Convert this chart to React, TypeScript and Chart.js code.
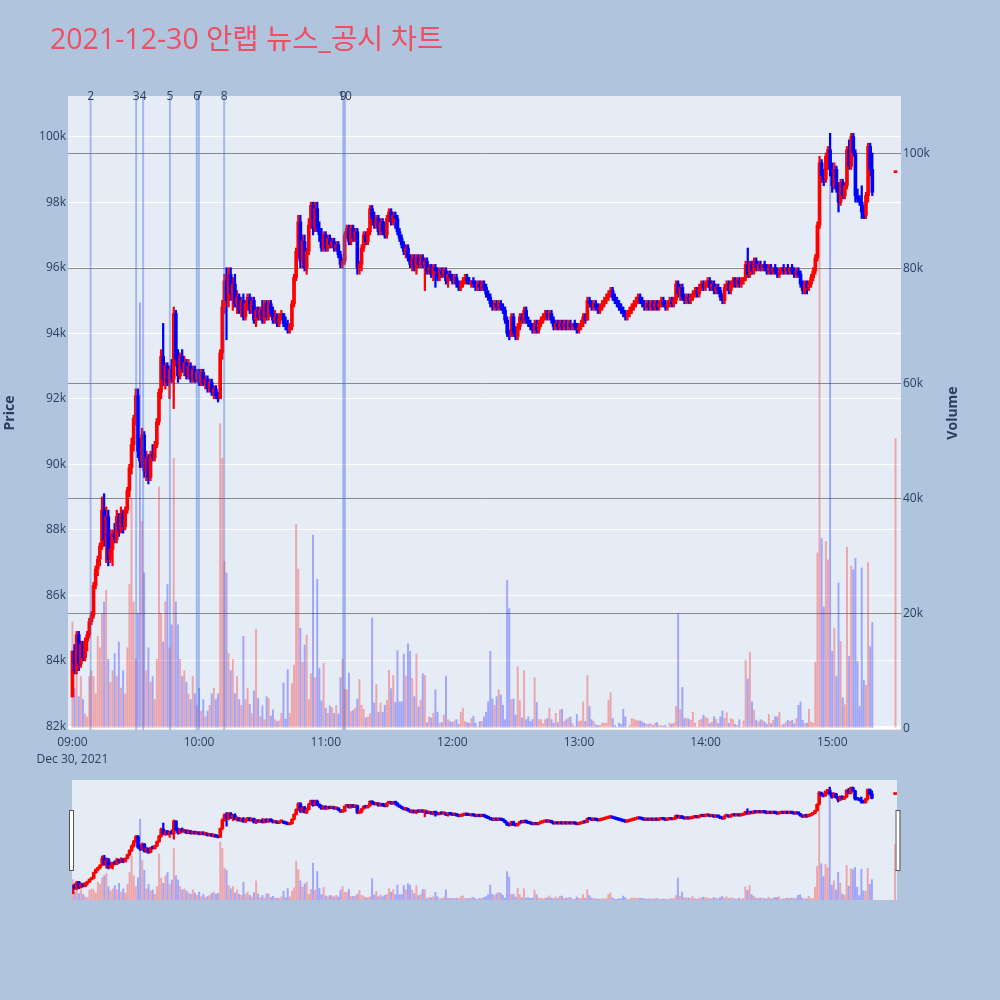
import React, { useEffect, useRef } from "react";
import { Chart, registerables } from "chart.js";

Chart.register(...registerables);

const TITLE = "2021-12-30 안랩 뉴스_공시 차트";
const DATE_LABEL = "Dec 30, 2021";
const timeTickMinutes = [0, 60, 120, 180, 240, 300, 360];
const timeTickLabels = ["09:00", "10:00", "11:00", "12:00", "13:00", "14:00", "15:00"];
const priceTicks = [82000, 84000, 86000, 88000, 90000, 92000, 94000, 96000, 98000, 100000];
const volumeTicks = [0, 20000, 40000, 60000, 80000, 100000];

// news / disclosure markers (minutes after 09:00)
const newsLabels = ["2", "3", "4", "5", "6", "7", "8", "9", "10"];
const newsMinutes = [8.6, 30.2, 33.5, 46.2, 58.9, 59.9, 71.9, 128.3, 129.1];

// 1-minute candles from 09:00, prices in units of 100 KRW
const opens = [
  829,843,837,848,839,845,841,846,848,852,
  854,863,868,871,875,886,877,884,871,874,
  879,877,884,880,885,881,886,892,899,906,
  914,921,904,901,909,898,902,896,903,902,
  906,913,922,933,926,930,925,929,926,946,
  932,927,933,929,931,927,930,926,929,926,
  928,925,928,925,926,923,925,922,923,921,
  920,934,948,956,950,958,952,955,949,951,
  947,950,945,949,951,947,950,944,947,945,
  947,944,949,945,949,946,944,945,943,945,
  946,943,942,941,942,949,957,965,974,962,
  968,960,965,973,979,972,978,972,970,966,
  970,966,969,967,968,966,967,964,961,962,
  970,972,968,972,969,971,960,961,966,970,
  968,971,978,975,973,975,971,974,971,970,
  975,977,974,976,975,971,969,967,965,966,
  963,961,963,960,963,961,963,961,962,959,
  960,958,960,959,957,959,958,959,956,958,
  957,956,957,955,954,955,956,957,956,955,
  956,955,954,955,954,955,954,952,951,949,
  948,949,948,949,948,947,944,940,939,945,
  940,939,942,945,944,947,944,943,942,941,
  943,941,943,944,945,946,945,946,944,942,
  943,942,943,942,943,942,943,942,943,942,
  941,942,943,945,944,950,949,948,949,948,
  947,948,949,950,951,952,953,951,950,949,
  948,947,946,945,946,947,948,949,950,951,
  950,949,948,949,948,949,948,949,948,949,
  950,949,948,949,950,949,950,955,952,954,
  951,950,951,950,951,952,953,952,954,955,
  954,955,956,954,955,953,954,953,951,950,
  954,955,953,955,956,955,956,955,956,957,
  961,958,961,959,962,960,961,960,961,960,
  959,960,959,960,959,958,959,960,959,960,
  959,960,959,958,959,958,955,953,955,954,
  955,957,959,963,973,992,988,987,994,996,
  990,985,990,984,980,986,982,985,996,991,
  1000,995,982,981,980,977,976,982,997,990,
];
const highs = [
  843,845,849,849,846,846,847,849,853,855,
  864,869,872,876,890,891,887,886,880,880,
  882,886,885,887,886,887,893,900,908,915,
  923,923,908,911,910,904,903,904,906,907,
  914,923,935,943,931,931,930,932,948,947,
  935,934,935,933,932,932,931,930,930,929,
  929,929,929,927,927,926,926,924,924,922,
  935,950,958,960,960,960,957,958,953,952,
  951,952,950,952,952,951,951,948,948,948,
  950,950,950,950,950,948,947,946,946,947,
  946,945,944,943,950,958,966,976,976,970,
  970,966,975,980,980,980,980,974,972,971,
  971,970,970,969,969,968,968,965,963,971,
  973,973,973,973,972,972,962,967,971,971,
  972,979,979,977,976,976,975,975,974,976,
  978,978,977,977,976,972,970,968,967,967,
  964,964,964,964,964,964,964,963,963,961,
  961,961,961,960,960,960,960,960,959,959,
  958,958,958,956,956,957,958,958,957,956,
  957,956,956,956,956,956,955,953,952,950,
  950,950,950,950,949,948,945,941,946,946,
  942,943,946,946,948,948,945,944,943,944,
  944,944,945,946,947,947,947,947,945,944,
  944,944,944,944,944,944,944,943,944,943,
  943,944,946,946,951,951,950,950,950,949,
  949,950,951,952,953,954,954,952,951,950,
  949,948,947,947,948,949,950,951,952,952,
  951,950,950,950,950,950,950,950,950,951,
  951,950,950,951,951,951,956,956,955,955,
  952,952,952,952,953,954,954,955,956,956,
  956,957,957,956,956,955,955,954,952,955,
  956,956,956,957,957,957,957,957,957,962,
  966,962,962,963,963,962,962,961,962,961,
  961,961,960,961,960,960,960,961,960,961,
  960,961,960,960,960,959,956,956,956,956,
  958,960,964,974,994,993,990,995,997,1001,
  992,992,991,986,987,987,986,997,999,1001,
  1001,996,984,982,985,979,983,998,998,995,
];
const lows = [
  829,836,836,837,838,840,840,843,847,851,
  853,862,866,869,874,875,870,869,870,869,
  876,876,878,879,879,880,885,890,897,904,
  912,902,899,899,896,895,894,895,901,901,
  905,912,920,924,923,924,920,925,917,930,
  925,926,928,927,926,926,925,925,925,925,
  924,924,924,923,922,922,921,920,920,919,
  920,932,946,938,948,950,947,948,946,946,
  945,944,944,947,946,946,943,942,944,944,
  943,943,944,944,945,943,943,942,942,944,
  942,941,940,940,941,948,956,963,960,960,
  959,958,964,972,970,971,971,968,965,965,
  965,965,966,966,965,965,963,960,960,961,
  969,967,967,968,968,958,958,959,965,967,
  967,970,973,972,972,970,970,970,969,969,
  974,973,973,972,970,968,966,964,963,962,
  960,959,959,958,960,960,960,953,958,958,
  957,956,954,956,956,957,957,955,954,956,
  955,955,954,953,953,954,955,955,955,954,
  954,953,953,953,953,953,951,950,948,947,
  947,947,947,947,946,943,939,938,939,939,
  938,938,941,943,943,943,942,941,940,940,
  940,940,942,943,944,944,944,943,941,941,
  941,941,941,941,941,941,941,941,941,940,
  940,941,942,943,944,948,947,947,947,946,
  946,947,948,949,950,951,950,949,948,947,
  946,945,944,944,945,946,947,948,949,949,
  948,947,947,947,947,947,947,947,947,948,
  948,947,947,948,948,948,949,951,950,950,
  949,949,949,949,950,951,951,951,953,953,
  953,954,953,953,952,952,952,950,949,949,
  953,952,952,954,954,954,954,954,955,956,
  957,957,958,958,959,959,959,959,959,958,
  958,958,958,958,957,957,958,958,958,958,
  958,958,957,957,957,954,952,952,952,953,
  954,956,958,962,972,986,985,986,990,988,
  983,984,983,977,979,981,981,984,990,990,
  994,980,980,979,975,975,975,980,988,982,
];
const closes = [
  843,837,848,839,845,841,846,848,852,854,
  863,868,871,875,886,877,884,871,874,879,
  877,884,880,885,881,886,892,899,906,914,
  921,904,901,909,898,902,896,903,902,906,
  913,922,933,926,930,925,929,926,946,932,
  927,933,929,931,927,930,926,929,926,928,
  925,928,925,926,923,925,922,923,921,920,
  934,948,956,950,958,952,955,949,951,947,
  950,945,949,951,947,950,944,947,945,947,
  944,949,945,949,946,944,945,943,945,946,
  943,942,941,942,949,957,965,974,962,968,
  960,965,973,979,972,978,972,970,966,970,
  966,969,967,968,966,967,964,961,962,970,
  972,968,972,969,971,960,961,966,970,968,
  971,978,975,973,975,971,974,971,970,975,
  977,974,976,975,971,969,967,965,966,963,
  961,963,960,963,961,963,961,962,959,960,
  958,960,959,957,959,958,959,956,958,957,
  956,957,955,954,955,956,957,956,955,956,
  955,954,955,954,955,954,952,951,949,948,
  949,948,949,948,947,944,940,939,945,940,
  939,942,945,944,947,944,943,942,941,943,
  941,943,944,945,946,945,946,944,942,943,
  942,943,942,943,942,943,942,943,942,941,
  942,943,945,944,950,949,948,949,948,947,
  948,949,950,951,952,953,951,950,949,948,
  947,946,945,946,947,948,949,950,951,950,
  949,948,949,948,949,948,949,948,949,950,
  949,948,949,950,949,950,955,952,954,951,
  950,951,950,951,952,953,952,954,955,954,
  955,956,954,955,953,954,953,951,950,954,
  955,953,955,956,955,956,955,956,957,961,
  958,961,959,962,960,961,960,961,960,959,
  960,959,960,959,958,959,960,959,960,959,
  960,959,958,959,958,955,953,955,954,955,
  957,959,963,973,992,988,987,994,996,990,
  985,990,984,980,986,982,985,996,991,1000,
  995,982,981,980,977,976,982,997,990,983,
];
// volume per minute, thousands of shares
const volumes = [
  18.5,7,12,5.5,9,5,2.5,2,9,10,
  9,6,16,14,20,22,24,12,8,10,
  13,9,15,7,10,6,14,25,40,22,
  12,20,74,36,27,10,14,8,9,5,
  12,42,20,15,22,25,14,18,47,22,
  18,12,9,10,8,6,5,9,6,4,
  7,3,5,2,3,4,6,7,5,6,
  53,47,29,27,13,10,12,6,9,5,
  4,16,5,7,4.2,2.6,6.5,17.2,5.2,2.0,
  3.9,1.5,5.5,5.2,2.1,3.2,1.5,1.2,1.3,2.6,
  7.9,1.6,10.2,2.6,7.8,11,35.5,27.7,17.4,11.5,
  14.5,16.2,5,9.5,33.6,8.8,25.9,10.4,4.8,11.3,
  3.5,2.6,3.9,3.6,2.6,4.0,2.5,8.8,12,6.8,
  6.7,9.6,2.9,3.1,3.5,5.1,8.5,4.0,3.3,1.8,
  2.0,2.5,19.2,4.4,7.6,2.8,4.4,2.8,4.0,4.9,
  10.1,6.9,9.2,4.5,13.5,4.6,4.6,12.9,9.1,14.7,
  13.4,8.7,5.5,12.9,3.7,4.9,9.5,9.2,1.0,2.0,
  1.8,2.6,6.7,2.8,0.9,1.0,2.3,9.1,1.5,1.2,
  1.0,1.3,1.5,0.7,2.8,3.5,1.2,1.0,0.9,1.7,
  2.1,0.9,0.3,1.2,1.2,2.0,2.8,4.6,13.4,5.1,
  4.0,5.5,6.7,5.8,4.0,1.5,25.7,20.8,5.0,5.1,
  2.3,10.7,4.8,1.8,10.0,1.5,2.0,1.2,1.5,8.8,
  4.5,1.5,1.5,0.8,1.5,1.7,3.5,1.5,0.9,2.6,
  1.0,3.2,3.3,1.2,1.5,1.8,2.0,0.8,0.3,2.4,
  1.2,1.3,4.6,1.2,9.2,3.8,1.5,1.2,0.6,0.5,
  0.5,0.9,0.9,0.9,4.9,6.2,1.7,0.5,0.2,0.9,
  0.7,3.3,2.0,0.2,0.5,1.7,1.6,1.4,1.3,1.3,
  1.1,0.9,0.7,0.7,0.8,0.5,0.9,1.0,0.5,0.5,
  0.4,0.5,0.2,0.9,0.7,0.9,3.8,19.9,3.3,7.1,
  1.7,1.7,1.6,1.4,2.8,0.9,0.2,1.4,1.6,2.3,
  1.9,1.7,0.8,1.1,2.0,1.6,0.8,2.0,3.0,1.7,
  2.7,0.9,1.7,1.5,0.7,0.5,1.5,0.2,1.3,11.8,
  8.6,13.2,4.6,3.2,1.4,1.1,1.5,1.4,1.1,0.7,
  2.4,0.8,1.4,2.0,2.0,2.8,0.5,0.7,1.1,1.4,
  1.2,1.4,0.8,1.7,4.0,4.6,1.4,0.8,0.9,3.3,
  1.1,0.9,11.5,30.5,90,33,21.1,32.5,29.3,98,
  13.4,17.4,9,25.3,15.1,5.3,4.1,31.5,12.5,28.2,
  27.6,29.6,11.6,3.8,27.9,8.3,7.5,28.8,14.2,18.4,
];
// closing auction at 15:30
const auctionMinute = 390;
const auctionOpen = 989;
const auctionHigh = 989;
const auctionLow = 989;
const auctionClose = 989;
const auctionVolume = 50.4;

const FONT = '"Open Sans", verdana, arial, "Noto Sans CJK KR", sans-serif';
const PAGE_BG = "#b0c4de";
const PLOT_BG = "#e5ecf6";
const TEXT = "#2a3f5f";
const UP = "#ff0000";
const DOWN = "#0000ff";
const UP_VOL = "rgba(255,0,0,0.3)";
const DOWN_VOL = "rgba(0,0,255,0.3)";

function buildSeries() {
  const m: number[] = opens.map((_, i) => i).concat([auctionMinute]);
  const o = opens.concat([auctionOpen]);
  const h = highs.concat([auctionHigh]);
  const l = lows.concat([auctionLow]);
  const c = closes.concat([auctionClose]);
  const v = volumes.concat([auctionVolume]);
  const up = c.map((cv, i) => cv >= o[i]);
  return {
    vol: m.map((x, i) => ({ x, y: v[i] * 1000 })),
    volColors: up.map((u) => (u ? UP_VOL : DOWN_VOL)),
    wick: m.map((x, i) => ({ x, y: [l[i] * 100, h[i] * 100] })),
    body: m.map((x, i) => ({ x, y: [o[i] * 100, c[i] * 100] })),
    colors: up.map((u) => (u ? UP : DOWN)),
  };
}

function datasets(s: any) {
  return [
    { type: "bar", data: s.vol, yAxisID: "yv", backgroundColor: s.volColors, barThickness: 1.3, grouped: false, order: 3 },
    { type: "bar", data: s.wick, yAxisID: "yp", backgroundColor: s.colors, barThickness: 1.6, grouped: false, order: 2 },
    { type: "bar", data: s.body, yAxisID: "yp", backgroundColor: s.colors, barThickness: 3, grouped: false, minBarLength: 2, order: 1 },
  ];
}

const bgPlugin = {
  id: "bgPlugin",
  beforeDraw(chart: any) {
    const { ctx, chartArea: a } = chart;
    ctx.save();
    ctx.fillStyle = PLOT_BG;
    ctx.fillRect(a.left, a.top, a.right - a.left, a.bottom - a.top);
    ctx.restore();
  },
};

const decorPlugin = {
  id: "decorPlugin",
  afterDatasetsDraw(chart: any) {
    const { ctx, chartArea: a, scales } = chart;
    ctx.save();
    ctx.strokeStyle = "rgba(65,105,225,0.4)";
    ctx.lineWidth = 2;
    newsMinutes.forEach((mm) => {
      const px = scales.x.getPixelForValue(mm);
      ctx.beginPath();
      ctx.moveTo(px, a.top);
      ctx.lineTo(px, a.bottom);
      ctx.stroke();
    });
    ctx.fillStyle = TEXT;
    ctx.font = "12px " + FONT;
    ctx.textAlign = "center";
    ctx.textBaseline = "middle";
    newsMinutes.forEach((mm, i) => {
      const px = scales.x.getPixelForValue(mm);
      ctx.fillText(newsLabels[i], px, a.top + 1);
    });
    ctx.restore();
  },
  afterDraw(chart: any) {
    const { ctx, chartArea: a } = chart;
    const cy = (a.top + a.bottom) / 2;
    ctx.save();
    ctx.fillStyle = "#ef4f63";
    ctx.font = "28.5px " + FONT;
    ctx.textAlign = "left";
    ctx.textBaseline = "middle";
    ctx.fillText(TITLE, 50, 41);
    ctx.fillStyle = TEXT;
    ctx.font = "bold 14px " + FONT;
    ctx.textAlign = "center";
    ctx.translate(10, cy);
    ctx.rotate(-Math.PI / 2);
    ctx.fillText("Price", 0, 0);
    ctx.restore();
    ctx.save();
    ctx.fillStyle = TEXT;
    ctx.font = "bold 14px " + FONT;
    ctx.textAlign = "center";
    ctx.textBaseline = "middle";
    ctx.translate(953, cy);
    ctx.rotate(-Math.PI / 2);
    ctx.fillText("Volume", 0, 0);
    ctx.restore();
  },
};

const handlePlugin = {
  id: "handlePlugin",
  afterDraw(chart: any) {
    const { ctx, chartArea: a } = chart;
    ctx.save();
    ctx.fillStyle = "#ffffff";
    ctx.strokeStyle = "#555555";
    ctx.lineWidth = 1;
    [a.left - 3, a.right - 1.5].forEach((x) => {
      ctx.fillRect(x, 30, 4, 60);
      ctx.strokeRect(x + 0.5, 30.5, 4, 60);
    });
    ctx.restore();
  },
};

export default function App() {
  const mainRef = useRef<HTMLCanvasElement>(null);
  const sliderRef = useRef<HTMLCanvasElement>(null);

  useEffect(() => {
    const s = buildSeries();
    const tickFont = { family: FONT, size: 12 };
    const main = new Chart(mainRef.current as HTMLCanvasElement, {
      type: "bar",
      data: { datasets: datasets(s) as any },
      options: {
        animation: false,
        responsive: false,
        devicePixelRatio: 1,
        layout: { padding: { top: 96, left: 0, right: 0, bottom: 0 } },
        plugins: { legend: { display: false }, tooltip: { enabled: false } },
        scales: {
          x: {
            type: "linear",
            min: -2.1,
            max: 392.6,
            offset: false,
            grid: { display: false },
            border: { display: false },
            afterBuildTicks: (sc: any) => {
              sc.ticks = timeTickMinutes.map((v) => ({ value: v }));
            },
            afterFit: (sc: any) => {
              sc.height = 50;
            },
            ticks: {
              padding: -4,
              maxRotation: 0,
              autoSkip: false,
              color: TEXT,
              font: { family: FONT, size: 12, lineHeight: 1.4 },
              callback: (v: any) => {
                const idx = timeTickMinutes.indexOf(Number(v));
                return idx === 0 ? [timeTickLabels[0], DATE_LABEL] : timeTickLabels[idx];
              },
            },
          },
          yp: {
            type: "linear",
            position: "left",
            min: 81890,
            max: 101240,
            border: { display: false },
            grid: { color: "#ffffff", lineWidth: 1, drawTicks: false },
            afterBuildTicks: (sc: any) => {
              sc.ticks = priceTicks.map((v) => ({ value: v }));
            },
            afterFit: (sc: any) => {
              sc.width = 68;
            },
            ticks: { padding: 2, color: TEXT, font: tickFont, callback: (v: any) => Number(v) / 1000 + "k" },
          },
          yv: {
            type: "linear",
            position: "right",
            min: -300,
            max: 110000,
            border: { display: false },
            grid: {
              drawTicks: false,
              color: (c: any) => (c.tick && c.tick.value === 0 ? "#ffffff" : "rgba(120,120,120,0.85)"),
              lineWidth: (c: any) => (c.tick && c.tick.value === 0 ? 2 : 1),
            },
            afterBuildTicks: (sc: any) => {
              sc.ticks = volumeTicks.map((v) => ({ value: v }));
            },
            afterFit: (sc: any) => {
              sc.width = 99;
            },
            ticks: {
              padding: 2,
              color: TEXT,
              font: tickFont,
              callback: (v: any) => (Number(v) === 0 ? "0" : Number(v) / 1000 + "k"),
            },
          },
        },
      } as any,
      plugins: [bgPlugin, decorPlugin],
    });

    const slider = new Chart(sliderRef.current as HTMLCanvasElement, {
      type: "bar",
      data: { datasets: datasets(s) as any },
      options: {
        animation: false,
        responsive: false,
        devicePixelRatio: 1,
        layout: { padding: { top: 0, left: 72, right: 103, bottom: 0 } },
        plugins: { legend: { display: false }, tooltip: { enabled: false } },
        scales: {
          x: { type: "linear", min: -0.3, max: 390.9, offset: false, display: false },
          yp: { type: "linear", min: 81890, max: 101240, display: false },
          yv: { type: "linear", min: -300, max: 110000, display: false },
        },
      } as any,
      plugins: [bgPlugin, handlePlugin],
    });

    return () => {
      main.destroy();
      slider.destroy();
    };
  }, []);

  return (
    <div
      style={{
        position: "fixed",
        left: 0,
        top: 0,
        width: 1000,
        height: 1000,
        background: PAGE_BG,
        overflow: "hidden",
      }}
    >
      <canvas ref={mainRef} width={1000} height={780} style={{ position: "absolute", left: 0, top: 0, width: 1000, height: 780 }} />
      <canvas ref={sliderRef} width={1000} height={120} style={{ position: "absolute", left: 0, top: 780, width: 1000, height: 120 }} />
    </div>
  );
}
